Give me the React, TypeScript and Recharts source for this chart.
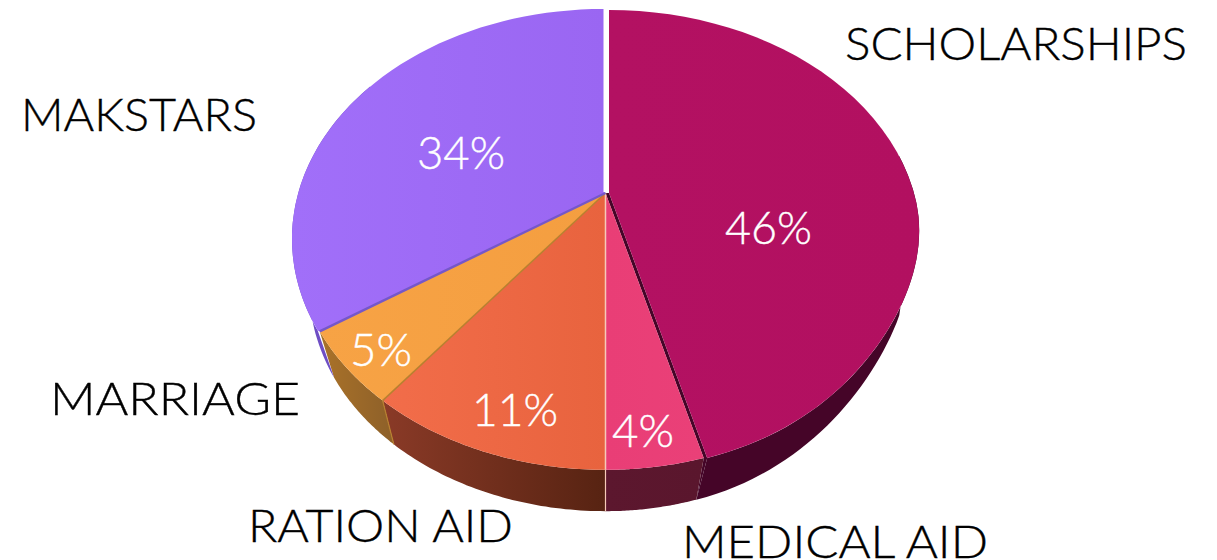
import { PieChart, Pie } from "recharts";

const categories = ["SCHOLARSHIPS", "MEDICAL AID", "RATION AID", "MARRIAGE", "MAKSTARS"];
const values = [45.8, 4.2, 10.5, 5.1, 34.4];

const faceFrom = ["#b31162", "#e93e76", "#f26d4a", "#f7a345", "#a16ff9"];
const faceTo = ["#b21060", "#ea4078", "#e8633e", "#f49e40", "#9a66f2"];
const wallFrom = ["#450528", "#5c172e", "#8a3a27", "#aa7229", "#6e4ec4"];
const wallTo = ["#450528", "#5a162d", "#572312", "#8d6029", "#6e4ec4"];
const edgeColors = ["none", "none", "#f6c9b8", "#b8802f", "#7557c9"];
const nudgeX = [3.5, 0, 0, 0, -2];
const nudgeY = [0, 0, 0, 0, -1];

const namePos = [
  { x: 845, y: 60, w: 342 },
  { x: 682, y: 558, w: 306 },
  { x: 248, y: 542, w: 265 },
  { x: 50, y: 415, w: 250 },
  { x: 21, y: 131, w: 236 },
];
const pctPos = [
  { x: 725, y: 244, w: 87 },
  { x: 612, y: 447, w: 62 },
  { x: 472, y: 426, w: 86 },
  { x: 350, y: 366, w: 62 },
  { x: 417, y: 169, w: 88 },
];

const tableData = categories.map((name, i) => ({ name, value: values[i] }));

// the flat circle seen from above: lines meet at cx,cy but the rim is pushed towards the viewer
const TILT = -0.204;
const WIDE = 1.685;
const DEPTH_X = 0.95;

const topRim = (cx: number, cy: number, r: number, deg: number) => {
  const ux = Math.cos((deg * Math.PI) / 180);
  const uy = -Math.sin((deg * Math.PI) / 180);
  const d = 1 + TILT * uy;
  const squeeze = ux > 0 && uy > 0 ? 1 - 0.13 * (ux * uy) ** 2 : 1;
  return [cx + (r * WIDE * ux * squeeze) / d, (cy + r * uy) / d];
};

const lowRim = (cx: number, cy: number, r: number, deg: number) => {
  const ux = Math.cos((deg * Math.PI) / 180);
  const uy = -Math.sin((deg * Math.PI) / 180);
  const d = 1 + TILT * uy;
  const squeeze = ux > 0 && uy > 0 ? (1 - 0.2 * Math.max(0, ux * uy - 0.3)) * (1 - 0.04 * uy ** 4) : 1;
  return [cx + (r * WIDE * DEPTH_X * ux * squeeze) / d, (cy + 51 + r * 0.9 * uy) / d];
};

const sweep = (a: number, b: number) => {
  const out: number[] = [];
  for (let i = 0; i <= 48; i++) out.push(a + ((b - a) * i) / 48);
  return out;
};

const toPath = (pts: number[][]) => "M" + pts.map((p) => `${p[0].toFixed(1)},${p[1].toFixed(1)}`).join("L") + "Z";

const WallShape = (props: any) => {
  const { cx, cy, outerRadius, startAngle, endAngle, name } = props;
  const i = categories.indexOf(name);
  const dx = nudgeX[i];
  const dy = nudgeY[i];
  // the back of the cake is never seen
  const from = Math.min(startAngle, 10);
  const to = Math.max(endAngle, -212);
  const upper = sweep(from, to).map((a) => {
    const p = topRim(cx, cy, outerRadius, a);
    return [p[0] + dx, p[1] + dy];
  });
  const lower = sweep(to, from).map((a) => lowRim(cx, cy, outerRadius, a));
  let cut = null;
  if (i === 0) {
    const base = topRim(cx, cy, outerRadius, endAngle);
    cut = (
      <>
        <path d={toPath([[cx + dx, cy + dy], [base[0] + dx, base[1] + dy], base, [cx, cy]])} fill={wallFrom[0]} />
        <path d={toPath([[base[0] + dx, base[1] + dy], base, lowRim(cx, cy, outerRadius, endAngle)])} fill={wallFrom[0]} />
      </>
    );
  }
  return (
    <g>
      <path d={toPath([...upper, ...lower])} fill={`url(#wall${i})`} />
      {cut}
    </g>
  );
};

const FaceShape = (props: any) => {
  const { cx, cy, outerRadius, startAngle, endAngle, name } = props;
  const i = categories.indexOf(name);
  const dx = nudgeX[i];
  const dy = nudgeY[i];
  const rim = sweep(startAngle, endAngle).map((a) => {
    const p = topRim(cx, cy, outerRadius, a);
    return [p[0] + dx, p[1] + dy];
  });
  const edgeEnd = topRim(cx, cy, outerRadius, startAngle);
  const edgeLow = lowRim(cx, cy, outerRadius, startAngle);
  // makstars sits a little off centre, keep its lower side joined to the marriage slice
  const outline = i === 4 ? [[cx, cy], edgeEnd, ...rim, [cx + dx, cy + dy]] : [[cx + dx, cy + dy], ...rim];
  return (
    <g>
      <path d={toPath(outline)} fill={`url(#face${i})`} />
      {edgeColors[i] !== "none" && (
        <>
          <line x1={cx} y1={cy} x2={edgeEnd[0]} y2={edgeEnd[1]} stroke={edgeColors[i]} strokeWidth={i === 4 ? 2.4 : 1.5} />
          {i < 4 && <line x1={edgeEnd[0]} y1={edgeEnd[1]} x2={edgeLow[0]} y2={edgeLow[1]} stroke={edgeColors[i]} strokeWidth={1.2} />}
        </>
      )}
    </g>
  );
};

const textFont = { fontFamily: "Lato, 'Open Sans', sans-serif", fontWeight: 300 };

const nameLabel = (props: any) => {
  const pos = namePos[props.index];
  return (
    <text x={pos.x} y={pos.y} fontSize={46} fill="#000000" stroke="#000000" strokeWidth={0.4} textLength={pos.w} lengthAdjust="spacingAndGlyphs" style={textFont}>
      {categories[props.index]}
    </text>
  );
};

const pctLabel = (props: any) => {
  const pos = pctPos[props.index];
  return (
    <text x={pos.x} y={pos.y} fontSize={46} fill="#ffffff" stroke="#ffffff" strokeWidth={0.4} textLength={pos.w} lengthAdjust="spacingAndGlyphs" style={textFont}>
      {`${Math.round(values[props.index])}%`}
    </text>
  );
};

export default function App() {
  return (
    <div style={{ position: "fixed", left: 0, top: 0, width: 1217, height: 560, overflow: "hidden", background: "#fff" }}>
      <PieChart width={1217} height={560} margin={{ top: 0, right: 0, bottom: 0, left: 0 }}>
        <defs>
          {categories.map((c, i) => (
            <linearGradient key={c} id={`face${i}`} x1="0" y1="0" x2="1" y2="0">
              <stop offset="0%" stopColor={faceFrom[i]} />
              <stop offset="100%" stopColor={faceTo[i]} />
            </linearGradient>
          ))}
          {categories.map((c, i) => (
            <linearGradient key={c} id={`wall${i}`} x1="0" y1="0" x2="1" y2="0">
              <stop offset="0%" stopColor={wallFrom[i]} />
              <stop offset="100%" stopColor={wallTo[i]} />
            </linearGradient>
          ))}
        </defs>
        <Pie
          data={tableData}
          dataKey="value"
          nameKey="name"
          cx={605.5}
          cy={193}
          outerRadius={181}
          startAngle={90}
          endAngle={-270}
          stroke="none"
          shape={WallShape}
          label={nameLabel}
          labelLine={false}
          isAnimationActive={false}
        />
        <Pie
          data={tableData}
          dataKey="value"
          nameKey="name"
          cx={605.5}
          cy={193}
          outerRadius={181}
          startAngle={90}
          endAngle={-270}
          stroke="none"
          shape={FaceShape}
          label={pctLabel}
          labelLine={false}
          isAnimationActive={false}
        />
      </PieChart>
    </div>
  );
}
